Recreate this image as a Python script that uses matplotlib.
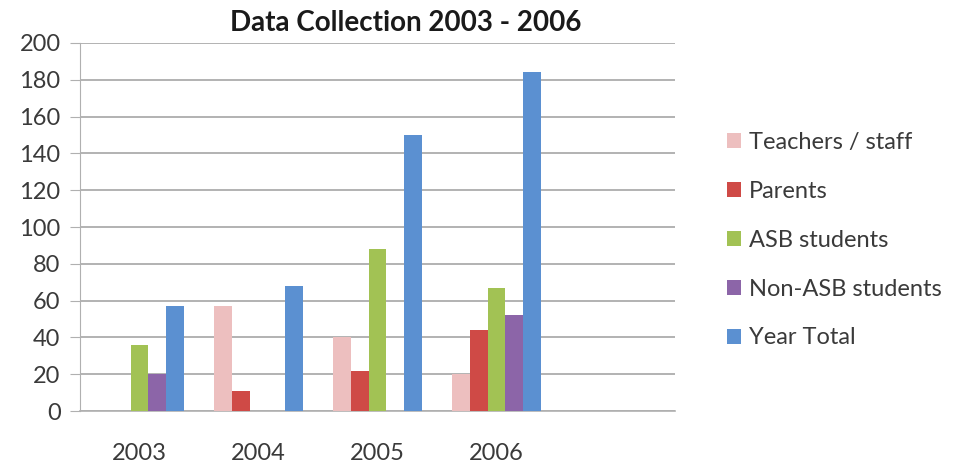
import numpy as np
import matplotlib
matplotlib.use("Agg")
import matplotlib.pyplot as plt

plt.rcParams['font.family'] = ['Lato', 'DejaVu Sans']

years = ['2003', '2004', '2005', '2006', '']
series = ['Teachers / staff', 'Parents', 'ASB students', 'Non-ASB students', 'Year Total']
teachers = [0, 57, 40, 20, 0]
parents = [0, 11, 22, 44, 0]
asb = [36, 0, 88, 67, 0]
non_asb = [20, 0, 0, 52, 0]
year_total = [57, 68, 150, 184, 0]
colors = ['#EDBFBF', '#CF4A46', '#A2C254', '#8C65A8', '#5B90D1']

values = [teachers, parents, asb, non_asb, year_total]

fig = plt.figure(figsize=(9.57, 4.75), dpi=100)
ax = fig.add_axes([0.0836, 0.1347, 0.6217, 0.7748])

x = np.arange(len(years))
w = 0.15
for i, (name, vals) in enumerate(zip(series, values)):
    ax.bar(x + (i - 2) * w, vals, w, color=colors[i], label=name, zorder=3)

ax.set_xlim(-0.5, len(years) - 0.5)
ax.set_ylim(0, 200)
ax.set_yticks(range(0, 201, 20))
ax.set_xticks(x)
ax.set_xticklabels(years)
ax.yaxis.grid(True, color='#A6A6A6', linewidth=1.2, zorder=0)
for s in ['top', 'right']:
    ax.spines[s].set_visible(False)
ax.spines['left'].set_color('#B0B0B0')
ax.spines['bottom'].set_color('#B0B0B0')
ax.spines['bottom'].set_linewidth(1.2)
ax.tick_params(axis='y', colors='#B0B0B0', labelcolor='#3A3A3A', labelsize=17, length=7, pad=7)
ax.tick_params(axis='x', length=0, labelcolor='#3A3A3A', labelsize=17, pad=23)

fig.text(0.424, 0.952, 'Data Collection 2003 - 2006', ha='center', va='center',
         fontsize=20, fontweight='bold', color='#1A1A1A')

fig.legend(loc='upper left', bbox_to_anchor=(0.737, 0.767), frameon=False,
           fontsize=17, labelspacing=1.18, handlelength=0.6, handleheight=0.6,
           handletextpad=0.35, labelcolor='#3A3A3A')

fig.savefig('out.png', dpi=100)
